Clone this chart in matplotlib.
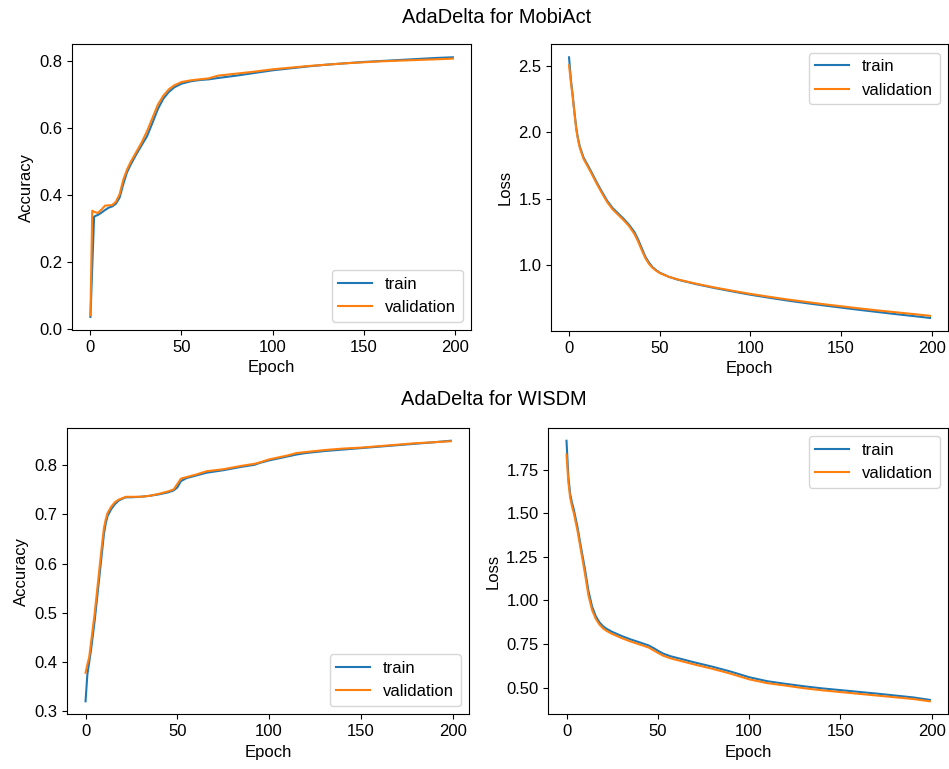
import matplotlib.pyplot as plt

plt.rcParams['font.family'] = ['Liberation Sans', 'DejaVu Sans']
plt.rcParams['font.size'] = 12

# MobiAct accuracy
ma_acc_ep = [0, 1, 2, 3, 4, 6, 8, 10, 12, 14, 16, 18, 20, 22, 25, 28, 31, 34, 37, 40,
             43, 46, 50, 55, 60, 65, 70, 80, 90, 100, 110, 120, 130, 140, 150, 160,
             170, 180, 190, 199]
ma_acc_train = [0.035, 0.185, 0.335, 0.338, 0.340, 0.347, 0.355, 0.362, 0.366, 0.374,
                0.392, 0.432, 0.467, 0.490, 0.520, 0.548, 0.575, 0.615, 0.657, 0.688,
                0.708, 0.722, 0.733, 0.740, 0.744, 0.746, 0.750, 0.757, 0.765, 0.773,
                0.779, 0.785, 0.790, 0.794, 0.798, 0.801, 0.804, 0.807, 0.810, 0.812]
ma_acc_val = [0.040, 0.353, 0.350, 0.348, 0.346, 0.356, 0.368, 0.369, 0.370, 0.380,
              0.402, 0.445, 0.475, 0.498, 0.527, 0.556, 0.590, 0.630, 0.670, 0.697,
              0.716, 0.728, 0.738, 0.743, 0.746, 0.749, 0.757, 0.763, 0.769, 0.776,
              0.781, 0.786, 0.790, 0.794, 0.797, 0.800, 0.802, 0.804, 0.806, 0.808]

# MobiAct loss
ma_loss_ep = [0, 1, 2, 3, 4, 5, 6, 8, 10, 12, 15, 18, 21, 24, 27, 30, 33, 36, 38, 40,
              42, 44, 46, 48, 50, 55, 60, 70, 80, 90, 100, 110, 120, 130, 140, 150,
              160, 170, 180, 190, 199]
ma_loss_train = [2.565, 2.40, 2.28, 2.15, 2.03, 1.95, 1.89, 1.81, 1.76, 1.71, 1.63,
                 1.555, 1.485, 1.43, 1.39, 1.35, 1.305, 1.25, 1.195, 1.13, 1.065,
                 1.02, 0.985, 0.962, 0.943, 0.912, 0.890, 0.857, 0.828, 0.802, 0.777,
                 0.755, 0.734, 0.715, 0.697, 0.680, 0.663, 0.647, 0.631, 0.616, 0.602]
ma_loss_val = [2.505, 2.38, 2.27, 2.14, 2.02, 1.94, 1.88, 1.80, 1.75, 1.70, 1.62,
               1.545, 1.475, 1.42, 1.38, 1.34, 1.295, 1.235, 1.18, 1.115, 1.055,
               1.01, 0.98, 0.958, 0.94, 0.912, 0.892, 0.86, 0.832, 0.807, 0.783,
               0.762, 0.742, 0.724, 0.706, 0.690, 0.674, 0.659, 0.645, 0.631, 0.618]

# WISDM accuracy
wi_acc_ep = [0, 1, 2, 3, 4, 5, 6, 7, 8, 9, 10, 11, 12, 14, 16, 18, 20, 22, 25, 30, 35,
             40, 45, 48, 50, 52, 55, 60, 66, 75, 85, 92, 95, 100, 105, 110, 115, 120,
             130, 140, 150, 160, 170, 180, 190, 199]
wi_acc_train = [0.320, 0.375, 0.400, 0.425, 0.455, 0.485, 0.520, 0.555, 0.590, 0.625,
                0.660, 0.682, 0.697, 0.711, 0.721, 0.728, 0.732, 0.735, 0.735, 0.736,
                0.738, 0.741, 0.745, 0.749, 0.755, 0.768, 0.774, 0.779, 0.785, 0.790,
                0.797, 0.801, 0.805, 0.810, 0.814, 0.818, 0.822, 0.825, 0.829, 0.832,
                0.835, 0.838, 0.841, 0.844, 0.847, 0.850]
wi_acc_val = [0.378, 0.395, 0.410, 0.440, 0.470, 0.500, 0.535, 0.570, 0.605, 0.640,
              0.672, 0.690, 0.703, 0.716, 0.725, 0.730, 0.733, 0.736, 0.736, 0.736,
              0.738, 0.742, 0.747, 0.751, 0.762, 0.773, 0.776, 0.781, 0.788, 0.792,
              0.799, 0.803, 0.806, 0.812, 0.816, 0.820, 0.825, 0.827, 0.831, 0.834,
              0.836, 0.839, 0.842, 0.845, 0.847, 0.849]

# WISDM loss
wi_loss_ep = [0, 1, 2, 3, 4, 6, 8, 10, 12, 14, 16, 18, 20, 22, 25, 30, 35, 40, 45, 48,
              50, 53, 57, 63, 70, 80, 90, 100, 110, 120, 130, 140, 150, 160, 170, 180,
              190, 199]
wi_loss_train = [1.915, 1.71, 1.61, 1.56, 1.52, 1.42, 1.30, 1.185, 1.055, 0.965, 0.91,
                 0.875, 0.852, 0.837, 0.82, 0.797, 0.777, 0.76, 0.742, 0.725, 0.712,
                 0.695, 0.68, 0.664, 0.645, 0.62, 0.592, 0.56, 0.537, 0.522, 0.508,
                 0.496, 0.486, 0.476, 0.466, 0.455, 0.444, 0.430]
wi_loss_val = [1.836, 1.68, 1.59, 1.54, 1.50, 1.40, 1.28, 1.16, 1.03, 0.945, 0.895,
               0.862, 0.84, 0.825, 0.808, 0.785, 0.765, 0.748, 0.73, 0.712, 0.70,
               0.683, 0.668, 0.652, 0.633, 0.608, 0.58, 0.548, 0.526, 0.512, 0.497,
               0.485, 0.475, 0.465, 0.455, 0.445, 0.435, 0.422]

fig = plt.figure(figsize=(9.49, 7.69), dpi=100)

panels = [
    ([0.0762, 0.5709, 0.4201, 0.3715], ma_acc_ep, ma_acc_train, ma_acc_val, 'Accuracy', 'lower right'),
    ([0.5806, 0.5696, 0.4184, 0.3728], ma_loss_ep, ma_loss_train, ma_loss_val, 'Loss', 'upper right'),
    ([0.0709, 0.0711, 0.4233, 0.3727], wi_acc_ep, wi_acc_train, wi_acc_val, 'Accuracy', 'lower right'),
    ([0.5778, 0.0711, 0.4212, 0.3727], wi_loss_ep, wi_loss_train, wi_loss_val, 'Loss', 'upper right'),
]

for rect, ep, tr, va, ylab, loc in panels:
    ax = fig.add_axes(rect)
    ax.plot(ep, tr, label='train')
    ax.plot(ep, va, label='validation')
    ax.set_xlabel('Epoch')
    ax.set_ylabel(ylab)
    ax.set_xticks([0, 50, 100, 150, 200])
    ax.legend(loc=loc)

fig.text(497 / 949, 0.9705, 'AdaDelta for MobiAct', ha='center', va='baseline', fontsize=14.4)
fig.text(494 / 949, 0.4733, 'AdaDelta for WISDM', ha='center', va='baseline', fontsize=14.4)

fig.savefig('out.png', dpi=100)
